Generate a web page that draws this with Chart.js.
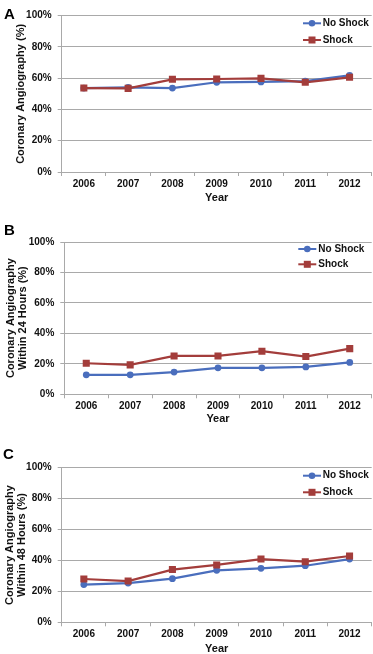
<!DOCTYPE html>
<html>
<head>
<meta charset="utf-8">
<script src="https://cdn.jsdelivr.net/npm/chart.js@4/dist/chart.umd.min.js"></script>
<style>
  html, body { margin: 0; padding: 0; background: #ffffff; overflow: hidden; }
  #wrap { position: relative; width: 373px; height: 654px; overflow: hidden; }
  canvas { position: absolute; left: 0; }
  .lbl { position: absolute; left: 4px; font: bold 15px/15px "Liberation Sans", Arial, sans-serif; color: #000; }
</style>
</head>
<body>
<div id="wrap">
  <canvas id="cA" width="373" height="210" style="top:0px"></canvas>
  <canvas id="cB" width="373" height="220" style="top:212px"></canvas>
  <canvas id="cC" width="373" height="220" style="top:440px"></canvas>
  <div class="lbl" style="top:6px">A</div>
  <div class="lbl" style="top:222px">B</div>
  <div class="lbl" style="top:446px;left:3px">C</div>
</div>
<script>
// ---- data ----
const years = ['2006', '2007', '2008', '2009', '2010', '2011', '2012'];
const seriesNames = ['No Shock', 'Shock'];
const yTicks = [0, 20, 40, 60, 80, 100];

const aNoShock = [53.7, 54.2, 53.7, 57.4, 57.6, 58.2, 61.8];
const aShock   = [53.7, 53.5, 59.3, 59.5, 59.9, 57.4, 60.6];
const bNoShock = [12.8, 12.8, 14.6, 17.4, 17.4, 18.0, 20.9];
const bShock   = [20.4, 19.3, 25.2, 25.2, 28.3, 24.8, 30.0];
const cNoShock = [24.4, 25.4, 28.2, 33.6, 34.9, 36.6, 40.9];
const cShock   = [28.0, 26.7, 34.1, 37.1, 40.9, 39.2, 42.9];

const xTitle = 'Year';
const aTitle = ['Coronary Angiography (%)'];
const bTitle = ['Coronary Angiography', 'Within 24 Hours (%)'];
const cTitle = ['Coronary Angiography', 'Within 48 Hours (%)'];

// ---- styles ----
const FONT = '"Liberation Sans", Arial, sans-serif';
const BLUE = '#4a6ebd';
const RED = '#a33d3b';
const GRID = '#a9a9a9';
const TEXT = '#111111';

const insideLegend = {
  id: 'insideLegend',
  afterDatasetsDraw(chart, args, opts) {
    const { ctx, chartArea } = chart;
    ctx.save();
    ctx.font = 'bold 10px ' + FONT;
    ctx.textBaseline = 'middle';
    ctx.textAlign = 'left';
    const order = [1, 0]; // No Shock, Shock (dataset indices)
    order.forEach((dsIdx, i) => {
      const ds = chart.data.datasets[dsIdx];
      const y = chartArea.top + opts.rows[i];
      const x0 = chartArea.right - opts.lineStart;
      const x1 = x0 + 18;
      ctx.strokeStyle = ds.borderColor;
      ctx.lineWidth = 2;
      ctx.beginPath(); ctx.moveTo(x0, y); ctx.lineTo(x1, y); ctx.stroke();
      ctx.fillStyle = ds.borderColor;
      const cx = (x0 + x1) / 2;
      if (ds.pointStyle === 'rect') {
        ctx.fillRect(cx - 3.5, y - 3.5, 7, 7);
      } else {
        ctx.beginPath(); ctx.arc(cx, y, 3.3, 0, Math.PI * 2); ctx.fill();
      }
      ctx.fillStyle = TEXT;
      ctx.fillText(ds.label, chartArea.right - opts.textStart, y);
    });
    ctx.restore();
  }
};

function makeChart(id, noShock, shock, yTitle, g) {
  return new Chart(document.getElementById(id), {
    type: 'line',
    data: {
      labels: years,
      datasets: [
        {
          label: seriesNames[1], data: shock, order: 0,
          borderColor: RED, backgroundColor: RED, borderWidth: 2.2,
          pointStyle: 'rect', pointRadius: 5, pointHoverRadius: 5,
          pointBorderWidth: 0, tension: 0
        },
        {
          label: seriesNames[0], data: noShock, order: 1,
          borderColor: BLUE, backgroundColor: BLUE, borderWidth: 2.2,
          pointStyle: 'circle', pointRadius: 3.4, pointHoverRadius: 3.4,
          pointBorderWidth: 0, tension: 0
        }
      ]
    },
    options: {
      responsive: false,
      animation: false,
      events: [],
      layout: { autoPadding: false, padding: { left: 0, right: g.right, top: g.top, bottom: g.bottom } },
      plugins: {
        legend: { display: false },
        tooltip: { enabled: false },
        insideLegend: g.legend
      },
      scales: {
        x: {
          offset: true,
          afterFit(s) { s.height = g.xh; },
          grid: { drawOnChartArea: false, drawTicks: true, tickLength: 4, color: GRID, offset: true },
          border: { display: true, color: GRID, width: 1 },
          ticks: { color: TEXT, font: { family: FONT, size: 10, weight: 'bold' }, padding: 2, maxRotation: 0 },
          title: { display: true, text: xTitle, color: TEXT, font: { family: FONT, size: 11, weight: 'bold' }, padding: { top: 0, bottom: 0 } }
        },
        y: {
          min: 0, max: 100,
          afterFit(s) { s.width = g.yw; },
          afterBuildTicks(s) { s.ticks = yTicks.map(v => ({ value: v })); },
          grid: { drawOnChartArea: true, drawTicks: true, tickLength: 4, color: GRID },
          border: { display: true, color: GRID, width: 1 },
          ticks: { color: TEXT, font: { family: FONT, size: 10, weight: 'bold' }, padding: 6, callback: v => v + '%' },
          title: { display: true, text: yTitle, color: TEXT, font: { family: FONT, size: 11, weight: 'bold', lineHeight: 1.1 }, padding: { top: g.ytPad, bottom: 0 } }
        }
      }
    },
    plugins: [insideLegend]
  });
}

makeChart('cA', aNoShock, aShock, aTitle, {
  right: 1.3, top: 15.7, bottom: 5.4, yw: 61.7, xh: 32.6, ytPad: 15,
  legend: { rows: [7.6, 24.3], lineStart: 68.7, textStart: 49 }
});
makeChart('cB', bNoShock, bShock, bTitle, {
  right: 1.3, top: 30, bottom: 6.5, yw: 64.3, xh: 31.2, ytPad: 5,
  legend: { rows: [7, 22.3], lineStart: 73.4, textStart: 53.4 }
});
makeChart('cC', cNoShock, cShock, cTitle, {
  right: 1.3, top: 27.7, bottom: 4.4, yw: 61.7, xh: 33.3, ytPad: 4,
  legend: { rows: [8, 24.6], lineStart: 68.7, textStart: 49 }
});
</script>
</body>
</html>
